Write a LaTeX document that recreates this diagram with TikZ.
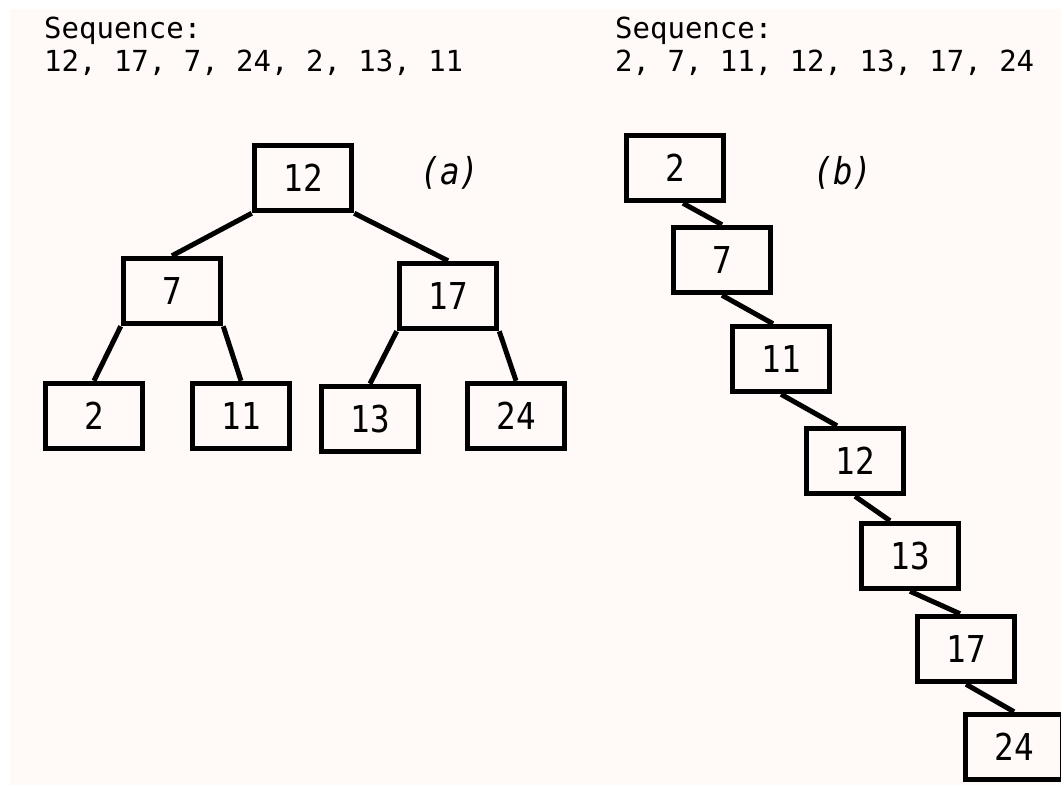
\documentclass[tikz,border=0pt]{standalone}
\usepackage{fontspec}
\setmonofont{DejaVu Sans Mono}
\newfontfamily\keyfont{DejaVu Sans Mono}[FakeStretch=0.88]

\definecolor{paper}{RGB}{255,250,248}

\tikzset{
  keybox/.style={draw, line width=5.5pt, minimum width=97pt, minimum height=65pt,
    inner sep=0pt, font=\keyfont\fontsize{37}{42}\selectfont},
  seqtext/.style={anchor=north west, align=left, inner sep=0pt,
    font=\ttfamily\fontsize{29}{33}\selectfont},
  tag/.style={inner sep=0pt, font=\keyfont\itshape\fontsize{37}{42}\selectfont},
  link/.style={line width=5pt}
}

\begin{document}
\begin{tikzpicture}[x=1pt,y=-1pt]
	\useasboundingbox (0,0) rectangle (1061,785);
	\fill[white] (0,0) rectangle (1061,785);
	\clip (0,0) rectangle (1061,785);
	\fill[paper] (10,9) rectangle (1061,785);

	% (a) balanced tree
	\node[seqtext] (seqa) at (44,17) {Sequence:\\12, 17, 7, 24, 2, 13, 11};
	\node[tag] (taga) at (450,173) {(a)};
	\node[keybox] (a12) at (303,178) {12};
	\node[keybox] (a7) at (172,291) {7};
	\node[keybox] (a17) at (448,296) {17};
	\node[keybox] (a2) at (94,416) {2};
	\node[keybox] (a11) at (241,416) {11};
	\node[keybox] (a13) at (370,419) {13};
	\node[keybox] (a24) at (516,416) {24};
	\draw[link] (a12.south west) -- (a7.north);
	\draw[link] (a12.south east) -- (a17.north);
	\draw[link] (a7.south west) -- (a2.north);
	\draw[link] (a7.south east) -- (a11.north);
	\draw[link] (a17.south west) -- (a13.north);
	\draw[link] (a17.south east) -- (a24.north);

	% (b) sorted input, degenerate tree
	\node[seqtext] (seqb) at (615,17) {Sequence:\\2, 7, 11, 12, 13, 17, 24};
	\node[tag] (tagb) at (843,173) {(b)};
	\node[keybox] (b2) at (675,168) {2};
	\node[keybox] (b7) at (722,260) {7};
	\node[keybox] (b11) at (781,359) {11};
	\node[keybox] (b12) at (855,461) {12};
	\node[keybox] (b13) at (910,556) {13};
	\node[keybox] (b17) at (966,649) {17};
	\node[keybox] (b24) at (1014,747) {24};
	\draw[link] ([xshift=8pt]b2.south) -- (b7.north);
	\draw[link] (b7.south) -- ([xshift=-8pt]b11.north);
	\draw[link] (b11.south) -- ([xshift=-18pt]b12.north);
	\draw[link] (b12.south) -- ([xshift=-20pt]b13.north);
	\draw[link] (b13.south) -- ([xshift=-6pt]b17.north);
	\draw[link] (b17.south) -- (b24.north);
\end{tikzpicture}
\end{document}
